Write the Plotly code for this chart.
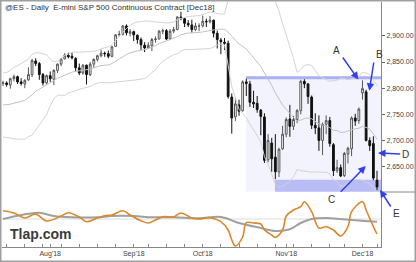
import plotly.graph_objects as go
from plotly.subplots import make_subplots
import pandas as pd

# ---------------- data ----------------
holidays = ["2018-09-03", "2018-11-22", "2018-12-05"]
dates = [d.strftime("%Y-%m-%d") for d in pd.bdate_range("2018-07-13", "2018-12-10")
         if d.strftime("%Y-%m-%d") not in holidays]

opens = [2809, 2810, 2806, 2818, 2822, 2812, 2808, 2816, 2826, 2852, 2847, 2826, 2810,
         2824, 2817, 2834, 2846, 2856, 2863, 2861, 2857, 2839, 2829, 2844, 2826, 2846, 2855,
         2862, 2867, 2866, 2861, 2880, 2902, 2903, 2919, 2905,
         2908, 2901, 2893, 2882, 2877, 2881, 2893, 2894, 2909, 2910, 2894, 2909, 2912, 2936,
         2933, 2924, 2921, 2912, 2919,
         2919, 2928, 2927, 2930, 2905, 2892, 2888, 2886, 2783, 2745, 2768, 2757, 2812, 2808,
         2773, 2771, 2758, 2745, 2663, 2695, 2668, 2640, 2684,
         2712, 2741, 2727, 2740, 2757, 2813, 2808, 2783, 2729, 2724, 2700, 2731, 2738, 2692,
         2642, 2648, 2633, 2674, 2684, 2743, 2738,
         2791, 2793, 2700, 2694, 2624]
highs = [2814, 2813, 2820, 2826, 2824, 2819, 2817, 2840, 2856, 2857, 2850, 2829, 2826,
         2832, 2836, 2847, 2858, 2867, 2868, 2868, 2859, 2847, 2846, 2845, 2850, 2857, 2864,
         2874, 2870, 2872, 2881, 2903, 2910, 2921, 2922, 2913,
         2910, 2903, 2897, 2888, 2888, 2896, 2899, 2911, 2914, 2913, 2913, 2917, 2938, 2946,
         2935, 2930, 2931, 2925, 2924,
         2939, 2933, 2938, 2931, 2910, 2896, 2896, 2891, 2790, 2782, 2778, 2815, 2818, 2814,
         2795, 2785, 2760, 2752, 2712, 2705, 2712, 2686, 2728,
         2744, 2768, 2747, 2760, 2816, 2817, 2810, 2786, 2752, 2748, 2734, 2748, 2745, 2695,
         2663, 2654, 2678, 2688, 2746, 2751, 2763,
         2815, 2797, 2706, 2708, 2642]
lows = [2804, 2803, 2799, 2813, 2808, 2805, 2800, 2814, 2821, 2842, 2816, 2805, 2807,
        2812, 2806, 2829, 2842, 2855, 2857, 2855, 2832, 2825, 2826, 2807, 2823, 2839, 2851,
        2859, 2860, 2857, 2859, 2879, 2899, 2901, 2901, 2899,
        2890, 2885, 2873, 2869, 2875, 2871, 2887, 2893, 2903, 2892, 2892, 2905, 2911, 2930,
        2917, 2917, 2906, 2909, 2909,
        2916, 2917, 2924, 2897, 2876, 2865, 2873, 2780, 2713, 2737, 2747, 2755, 2785, 2764,
        2762, 2753, 2710, 2657, 2658, 2640, 2626, 2630, 2682,
        2706, 2707, 2720, 2733, 2750, 2800, 2770, 2722, 2712, 2680, 2672, 2712, 2688, 2632,
        2638, 2630, 2630, 2656, 2670, 2728, 2732,
        2778, 2698, 2680, 2624, 2605]
closes = [2810, 2807, 2818, 2822, 2812, 2809, 2815, 2826, 2853, 2847, 2826, 2810, 2824,
          2818, 2834, 2846, 2856, 2863, 2860, 2858, 2839, 2829, 2844, 2826, 2846, 2855, 2862,
          2867, 2866, 2861, 2879, 2902, 2903, 2919, 2906, 2908,
          2902, 2893, 2883, 2877, 2882, 2893, 2894, 2909, 2910, 2894, 2909, 2912, 2936, 2933,
          2924, 2921, 2912, 2919, 2919,
          2928, 2927, 2930, 2905, 2893, 2889, 2886, 2784, 2743, 2770, 2756, 2812, 2809, 2773,
          2770, 2759, 2746, 2662, 2700, 2665, 2640, 2683, 2712,
          2740, 2727, 2740, 2757, 2813, 2808, 2784, 2729, 2724, 2700, 2731, 2738, 2694, 2642,
          2648, 2632, 2675, 2685, 2743, 2737, 2760,
          2799, 2700, 2690, 2628, 2611]
# closes before the first bar, only used to start the 20-bar bands
warmup_closes = [2800, 2795, 2782, 2788, 2768, 2772, 2730, 2738, 2715, 2730, 2738, 2740,
                 2728, 2750, 2773, 2797, 2806, 2788, 2808]

# oscillator (lower panel), read at selected bars
osc_idx = [0, 3, 6, 9, 12, 16, 18, 21, 23, 26, 28, 30, 33, 35, 38, 40, 42, 44, 47, 49, 52,
           54, 57, 60, 62, 63, 64, 66, 67, 69, 71, 72, 74, 75, 77, 78, 80, 82, 83, 85, 87,
           89, 91, 93, 95, 96, 99, 100, 102, 103]
osc_vals = [8.3, 6, 1, 5, -2, 3, 6.3, 2, -2.7, 1, 3.3, 4, 8.3, 4, -1.7, -4, -1, 2.3, 2, 6,
            1, 0, 1.3, -2.7, -11, -21, -27, -18, -3.7, -4, -5, -11, -16, -18.3, -11, 3, 9,
            12.3, 17.3, 7.3, -9, -7.7, -11, -17, -7.7, 7.3, 17.3, 9, -7.7, -15]
sig_idx = [0, 5, 10, 14, 19, 26, 30, 36, 41, 47, 54, 60, 65, 71, 75, 79, 82, 85, 89, 93, 96, 103]
sig_vals = [0, 4, 6.3, 3, 1.7, 1.7, 3, 3, 1.7, 1.7, 0.7, 2, -4, -9, -12, -10.3, -4, 0, 1, 0, -1, -2.7]

month_ticks = ["2018-08-01", "2018-09-04", "2018-10-01", "2018-11-01", "2018-12-03"]
month_labels = ["Aug'18", "Sep'18", "Oct'18", "Nov'18", "Dec'18"]
price_ticks = [2650, 2700, 2750, 2800, 2850, 2900]

resist_level = [2817, 2823]
support_zone = [2602, 2625]
resist_start = "2018-10-17"
support_start = "2018-10-29"

title_text = "@ES - Daily&nbsp; E-mini S&P 500 Continuous Contract [Dec18]"
labels = ["A", "B", "C", "D", "E"]

# ---------------- derived ----------------
allc = pd.Series(warmup_closes + closes)
mid = allc.rolling(20).mean().iloc[len(warmup_closes):].tolist()
sd = allc.rolling(20).std(ddof=0).iloc[len(warmup_closes):].tolist()
upper = [m + 2 * s for m, s in zip(mid, sd)]
lower = [m - 2 * s for m, s in zip(mid, sd)]

n = len(dates)
FONT = "Liberation Sans, Arial, sans-serif"
W, H = 416, 262
L, R, T, B = 2, 35, 2, 15
PW, PH = W - L - R, H - T - B


def px(x):
    return (x - L) / PW


def py(y):
    return (H - B - y) / PH


split = py(192)

fig = make_subplots(rows=2, cols=1, shared_xaxes=True, vertical_spacing=0,
                    row_heights=[1 - split, split])

band_col = "#d4d4d4"
fig.add_trace(go.Scatter(x=dates, y=upper, mode="lines", line=dict(color=band_col, width=1),
                         hoverinfo="skip"), row=1, col=1)
fig.add_trace(go.Scatter(x=dates, y=lower, mode="lines", line=dict(color=band_col, width=1),
                         hoverinfo="skip"), row=1, col=1)
fig.add_trace(go.Scatter(x=dates, y=mid, mode="lines", line=dict(color="#c2c2c2", width=1),
                         hoverinfo="skip"), row=1, col=1)

fig.add_trace(go.Candlestick(
    x=dates, open=opens, high=highs, low=lows, close=closes,
    increasing=dict(line=dict(color="#555555", width=1), fillcolor="white"),
    decreasing=dict(line=dict(color="#111111", width=1), fillcolor="#111111"),
    whiskerwidth=0), row=1, col=1)

fig.add_trace(go.Scatter(x=[dates[i] for i in sig_idx], y=sig_vals, mode="lines",
                         line=dict(color="#a0a0a0", width=2, shape="spline", smoothing=1)),
              row=2, col=1)
fig.add_trace(go.Scatter(x=[dates[i] for i in osc_idx], y=osc_vals, mode="lines",
                         line=dict(color="#d9892b", width=1.6, shape="spline", smoothing=1)),
              row=2, col=1)

xr = [-0.28, n + 0.1]
tickvals = sorted(set([d for d in dates if pd.Timestamp(d).weekday() == 0] + month_ticks))
ticktext = [month_labels[month_ticks.index(d)] if d in month_ticks else "" for d in tickvals]

fig.update_xaxes(type="category", range=xr, showgrid=False, zeroline=False,
                 rangeslider_visible=False)
fig.update_xaxes(showticklabels=False, showline=False, ticks="", row=1, col=1)
fig.update_xaxes(tickmode="array", tickvals=tickvals, ticktext=ticktext, ticks="inside",
                 ticklen=3, tickcolor="#888", showline=True, linecolor="#888", linewidth=1,
                 tickfont=dict(family=FONT, size=7, color="#444"), row=2, col=1)

fig.update_yaxes(range=[2601.4, 2964.8], side="right", tickmode="array", tickvals=price_ticks,
                 tickformat=",.2f", ticks="outside", ticklen=3, tickcolor="#666",
                 showline=True, linecolor="#888", linewidth=1, showgrid=False, zeroline=False,
                 tickfont=dict(family=FONT, size=7, color="#444"), row=1, col=1)
fig.update_yaxes(range=[-28, 27], side="right", showticklabels=False, ticks="",
                 showline=True, linecolor="#888", linewidth=1, showgrid=False, zeroline=False,
                 row=2, col=1)

rs = dates.index(resist_start) - 0.1
ss = dates.index(support_start) - 0.1
shapes = [
    dict(type="rect", xref="x", yref="y", x0=rs, x1=n + 0.1, y0=support_zone[0], y1=resist_level[1],
         fillcolor="#f3f3fd", line=dict(width=0), layer="below"),
    dict(type="rect", xref="x", yref="y", x0=rs, x1=n + 0.1, y0=resist_level[0], y1=resist_level[1],
         fillcolor="#aab0f3", line=dict(width=0), layer="below"),
    dict(type="rect", xref="x", yref="y", x0=ss, x1=n + 0.1, y0=support_zone[0], y1=support_zone[1],
         fillcolor="#babcf5", line=dict(width=0), layer="below"),
    dict(type="line", xref="x2 domain", yref="y2", x0=0, x1=1, y0=0, y1=0,
         line=dict(color="#dcdcdc", width=1), layer="below"),
    dict(type="line", xref="paper", yref="paper", x0=1, x1=px(W), y0=split, y1=split,
         line=dict(color="#888", width=1)),
    dict(type="rect", xref="paper", yref="paper", x0=px(0.75), x1=px(W - 0.75),
         y0=py(H - 0.75), y1=py(0.75), line=dict(color="#a0a0a0", width=1.5)),
]

annotations = [
    dict(text=title_text, xref="paper", yref="paper", x=px(3), y=py(7), xanchor="left",
         yanchor="middle", showarrow=False, font=dict(family=FONT, size=8, color="#333")),
    dict(text="<b>Tlap.com</b>", xref="paper", yref="paper", x=px(8), y=py(234), xanchor="left",
         yanchor="middle", showarrow=False, font=dict(family=FONT, size=14, color="#3a3a3a")),
]
arrow_tail = [(341.7, 56), (374, 61), (339.3, 193.3), (401.7, 154), (391.7, 208)]
arrow_head = [(358.3, 79.5), (369.3, 90.7), (365.7, 166), (378, 153), (380, 190)]
label_pos = [(336, 50), (379, 54), (331, 199), (405, 155), (396, 213)]
for lab, (tx, ty), (hx, hy), (lx, ly) in zip(labels, arrow_tail, arrow_head, label_pos):
    annotations.append(dict(text="", xref="paper", yref="paper", x=px(hx), y=py(hy),
                            axref="pixel", ayref="pixel", ax=tx - hx, ay=ty - hy,
                            showarrow=True, arrowhead=2, arrowsize=1, arrowwidth=1.5,
                            arrowcolor="#2f3ff0"))
    annotations.append(dict(text=lab, xref="paper", yref="paper", x=px(lx), y=py(ly),
                            xanchor="center", yanchor="middle", showarrow=False,
                            font=dict(family=FONT, size=10, color="#333")))

fig.update_layout(width=W, height=H, margin=dict(l=L, r=R, t=T, b=B),
                  paper_bgcolor="white", plot_bgcolor="white", showlegend=False,
                  shapes=shapes, annotations=annotations, hovermode=False)

fig.write_html("out.html")
